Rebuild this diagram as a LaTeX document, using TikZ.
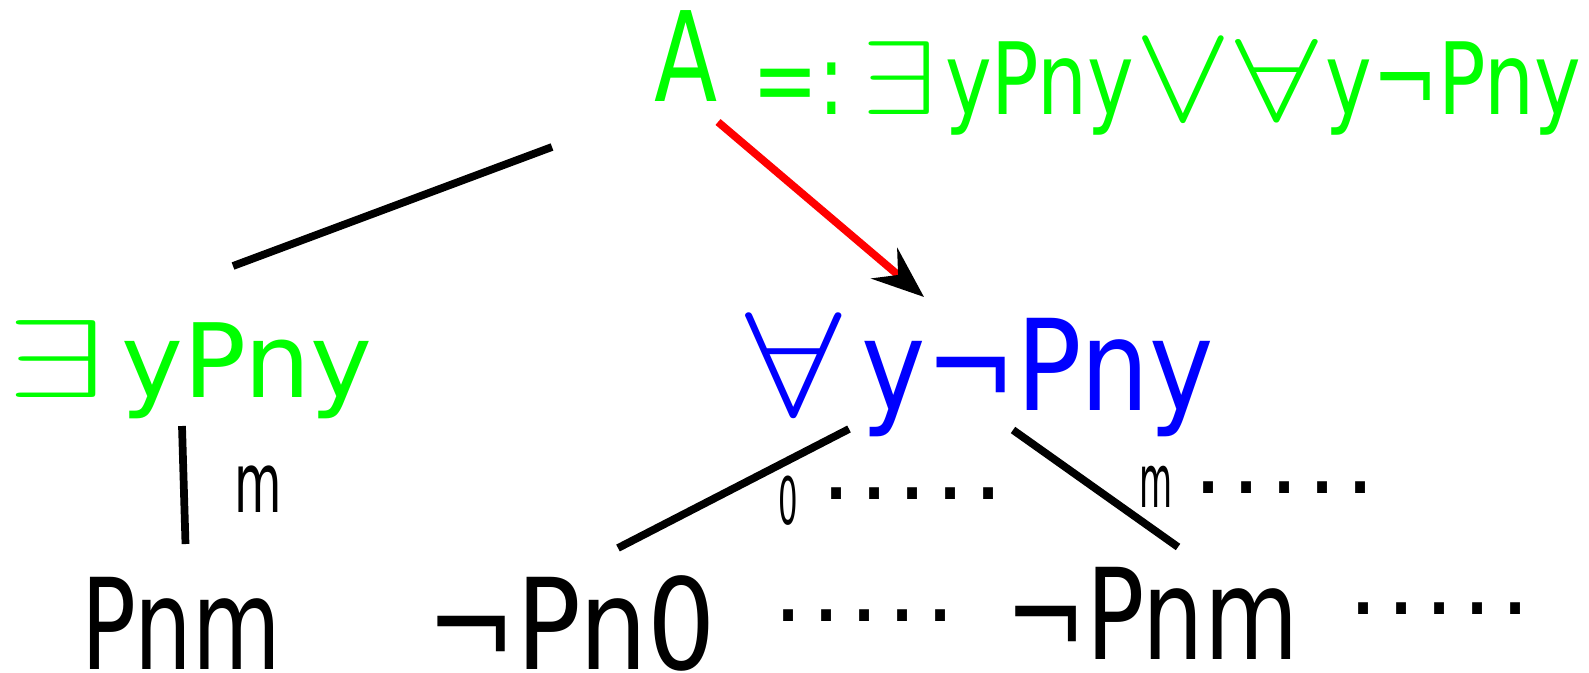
\documentclass[tikz,border=0pt]{standalone}
\usepackage{fix-cm}
\usepackage{graphicx}
\usepackage{fontspec}
\setmainfont{DejaVu Sans}
\usetikzlibrary{arrows.meta}
\definecolor{formgreen}{RGB}{0,255,0}
\definecolor{formblue}{RGB}{0,0,255}
\definecolor{formred}{RGB}{255,0,0}
% condensed sans, stretch and size
\newcommand{\tf}[2]{\fontspec[FakeStretch=#1]{DejaVu Sans}\fontsize{#2}{#2}\selectfont}
% thin logic symbol: symbol, x scale, y scale, drop
\newcommand{\lsym}[4]{\raisebox{#4}{\scalebox{#2}[#3]{$#1$}}}
\newcommand{\dotrow}{.\hspace{0.8mm}.\hspace{0.8mm}.\hspace{0.8mm}.\hspace{0.8mm}.}

\begin{document}
\begin{tikzpicture}[
    txt/.style={anchor=base west, inner sep=0pt, outer sep=0pt},
    edge/.style={line width=2.2pt},
    dots/.style={txt, font={\tf{1}{27}}}
  ]
  \useasboundingbox (0,0) rectangle (15.89,6.72);
  % root and its definition
  \node[txt, formgreen, font={\tf{0.74}{35.5}}] (root) at (6.54,5.71) {A};
  \node[txt, formgreen, font={\tf{0.79}{28.4}}] (def) at (7.52,5.58)
    {=:\hspace{0.17cm}\lsym{\exists}{1.36}{1.05}{0pt}\hspace{0.08cm}yPny\lsym{\vee}{1.47}{1.42}{-0.06cm}\hspace{0.03cm}\lsym{\forall}{1.49}{1.17}{-0.06cm}\hspace{0.08cm}y¬Pny};
  % second level
  \node[txt, formgreen, font={\tf{1.02}{29.2}}] (left) at (0.07,2.75)
    {\lsym{\exists}{1.74}{1.08}{0pt}\hspace{0.15cm}yPny};
  \node[txt, formblue, font={\tf{0.86}{36}}] (right) at (7.45,2.62)
    {\lsym{\forall}{1.37}{1.17}{-0.05cm}\hspace{0.2cm}y¬Pny};
  % leaves
  \node[txt, font={\tf{0.72}{36}}] (leafA) at (0.81,0.03) {Pnm};
  \node[txt, font={\tf{0.85}{36}}] (leafB) at (4.26,0.03) {¬Pn0};
  \node[txt, font={\tf{0.765}{36}}] (leafC) at (10.05,0.13) {¬Pnm};
  \node[dots] (dotsB) at (7.73,0.51) {\dotrow};
  \node[dots] (dotsC) at (13.48,0.58) {\dotrow};
  % edge labels
  \node[txt, font={\tf{0.585}{23.7}}] (labA) at (2.34,1.60) {m};
  \node[txt, font={\tf{0.47}{18.6}}] (labB) at (7.78,1.48) {0};
  \node[dots] (dotsLB) at (8.21,1.73) {\dotrow};
  \node[txt, font={\tf{0.46}{21}}] (labC) at (11.39,1.65) {m};
  \node[dots] (dotsLC) at (11.93,1.79) {\dotrow};
  % connectors
  \draw[edge] ([shift={(-1.02,-0.46)}]root.base west) -- ([shift={(2.26,1.31)}]left.base west);
  \draw[edge, formred, -{Stealth[length=5.2mm, width=4mm, inset=1.8mm, black]}]
    ([shift={(0.64,-0.21)}]root.base west) -- ([shift={(1.79,1.13)}]right.base west);
  \draw[edge] ([shift={(1.75,-0.29)}]left.base west) -- ([shift={(1.045,1.25)}]leafA.base west);
  \draw[edge] ([shift={(1.04,-0.19)}]right.base west) -- ([shift={(1.92,1.21)}]leafB.base west);
  \draw[edge] ([shift={(2.68,-0.20)}]right.base west) -- ([shift={(1.73,1.12)}]leafC.base west);
\end{tikzpicture}
\end{document}
